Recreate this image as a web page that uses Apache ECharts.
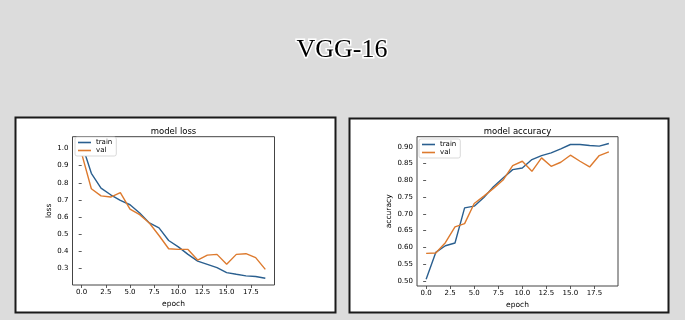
<!DOCTYPE html>
<html>
<head>
<meta charset="utf-8">
<script src="https://cdn.jsdelivr.net/npm/echarts@6/dist/echarts.min.js"></script>
<style>
html, body { margin: 0; padding: 0; background: #dcdcdc; }
#main { width: 685px; height: 320px; }
</style>
</head>
<body>
<div id="main"></div>
<script>
var epochs = [0, 1, 2, 3, 4, 5, 6, 7, 8, 9, 10, 11, 12, 13, 14, 15, 16, 17, 18, 19];
var lossTrain = [1.029, 0.855, 0.769, 0.730, 0.697, 0.672, 0.624, 0.566, 0.537, 0.464,
	0.427, 0.383, 0.344, 0.325, 0.306, 0.277, 0.267, 0.258, 0.254, 0.244];
var lossVal = [0.970, 0.765, 0.724, 0.717, 0.743, 0.647, 0.614, 0.566, 0.493, 0.416,
	0.412, 0.412, 0.350, 0.379, 0.383, 0.325, 0.383, 0.387, 0.364, 0.296];
var accTrain = [0.505, 0.585, 0.605, 0.613, 0.718, 0.723, 0.749, 0.781, 0.807, 0.832,
	0.837, 0.862, 0.874, 0.882, 0.894, 0.907, 0.907, 0.904, 0.902, 0.910];
var accVal = [0.582, 0.583, 0.614, 0.661, 0.671, 0.731, 0.753, 0.776, 0.801, 0.844,
	0.857, 0.827, 0.867, 0.842, 0.854, 0.875, 0.857, 0.840, 0.874, 0.885];
var xTicks = [0, 2.5, 5, 7.5, 10, 12.5, 15, 17.5];
var lossTicks = [0.3, 0.4, 0.5, 0.6, 0.7, 0.8, 0.9, 1.0];
var accTicks = [0.50, 0.55, 0.60, 0.65, 0.70, 0.75, 0.80, 0.85, 0.90];

var blue = '#2a5f8f';
var orange = '#dd7a2e';
var font = 'DejaVu Sans';

// matplotlib style limits: data range plus 5% each side
function limits(a, b) {
	var lo = Math.min.apply(null, a.concat(b));
	var hi = Math.max.apply(null, a.concat(b));
	var pad = (hi - lo) * 0.05;
	return [lo - pad, hi + pad];
}
function pairs(vals) {
	return epochs.map(function (e, i) { return [e, vals[i]]; });
}

var lossLim = limits(lossTrain, lossVal);
var accLim = limits(accTrain, accVal);

function xAxisFor(idx) {
	return {
		type: 'value', gridIndex: idx, min: -0.95, max: 19.95,
		splitLine: { show: false },
		axisLine: { show: false },
		axisTick: { show: true, customValues: xTicks, length: 3, lineStyle: { color: '#333', width: 0.8 } },
		axisLabel: {
			customValues: xTicks, fontSize: 7, fontFamily: font, color: '#000', margin: 4,
			formatter: function (v) { return v.toFixed(1); }
		},
		name: 'epoch', nameLocation: 'middle', nameGap: 15,
		nameTextStyle: { fontSize: 7.5, fontFamily: font, color: '#000' }
	};
}
function yAxisFor(idx, lim, ticks, dec, label, gap) {
	return {
		type: 'value', gridIndex: idx, min: lim[0], max: lim[1],
		splitLine: { show: false },
		axisLine: { show: false },
		axisTick: { show: true, customValues: ticks, length: 3, lineStyle: { color: '#333', width: 0.8 } },
		axisLabel: {
			customValues: ticks, fontSize: 7, fontFamily: font, color: '#000', margin: 4,
			formatter: function (v) { return v.toFixed(dec); }
		},
		name: label, nameLocation: 'middle', nameGap: gap,
		nameTextStyle: { fontSize: 7.5, fontFamily: font, color: '#000' }
	};
}
function legendAt(left, top) {
	return {
		data: ['train', 'val'], left: left, top: top, orient: 'vertical',
		icon: 'rect', itemWidth: 13, itemHeight: 1.6, itemGap: 1, itemTextGap: 5,
		padding: [2, 4, 2, 3], backgroundColor: '#fff', borderColor: '#cfcfcf',
		borderWidth: 0.8, borderRadius: 2, selectedMode: false,
		textStyle: { fontSize: 7, fontFamily: font, color: '#000' }
	};
}
function lineSeries(name, vals, idx, color) {
	return {
		name: name, type: 'line', xAxisIndex: idx, yAxisIndex: idx,
		data: pairs(vals), symbol: 'none', showSymbol: false,
		lineStyle: { color: color, width: 1.4 }, itemStyle: { color: color }
	};
}

var chart = echarts.init(document.getElementById('main'));
var option = {
	backgroundColor: '#dcdcdc',
	animation: false,
	graphic: [
		{ type: 'rect', shape: { x: 15.5, y: 117.5, width: 320, height: 195 }, style: { fill: '#fff', stroke: '#1a1a1a', lineWidth: 2 }, z: -10 },
		{ type: 'rect', shape: { x: 349.5, y: 118.5, width: 319, height: 194 }, style: { fill: '#fff', stroke: '#1a1a1a', lineWidth: 2 }, z: -10 },
		{ type: 'text', x: 342, y: 50, style: { text: 'VGG-16', font: '26px "Liberation Serif"', fill: '#000', align: 'center', verticalAlign: 'middle', stroke: '#fff', lineWidth: 3, shadowColor: '#fff', shadowBlur: 4 } },
		{ type: 'text', x: 173.5, y: 132, style: { text: 'model loss', font: '8.5px "DejaVu Sans"', fill: '#000', align: 'center', verticalAlign: 'middle' } },
		{ type: 'text', x: 517.5, y: 132, style: { text: 'model accuracy', font: '8.5px "DejaVu Sans"', fill: '#000', align: 'center', verticalAlign: 'middle' } }
	],
	grid: [
		{ left: 72.5, top: 136.7, width: 202, height: 148.3, show: true, borderColor: '#444', borderWidth: 1, backgroundColor: 'transparent' },
		{ left: 417, top: 136.7, width: 201, height: 149.3, show: true, borderColor: '#444', borderWidth: 1, backgroundColor: 'transparent' }
	],
	xAxis: [xAxisFor(0), xAxisFor(1)],
	yAxis: [
		yAxisFor(0, lossLim, lossTicks, 1, 'loss', 19),
		yAxisFor(1, accLim, accTicks, 2, 'accuracy', 23)
	],
	legend: [legendAt(75, 137), legendAt(419, 139)],
	series: [
		lineSeries('train', lossTrain, 0, blue),
		lineSeries('val', lossVal, 0, orange),
		lineSeries('train', accTrain, 1, blue),
		lineSeries('val', accVal, 1, orange)
	]
};
chart.setOption(option);
</script>
</body>
</html>
